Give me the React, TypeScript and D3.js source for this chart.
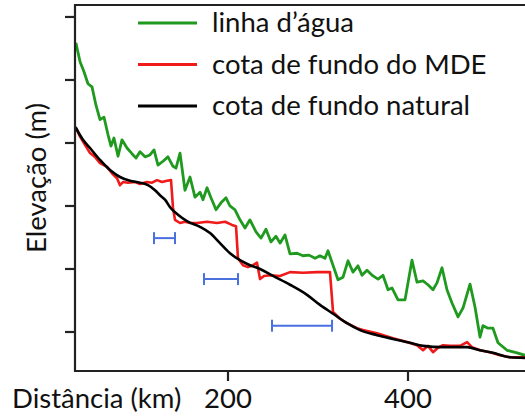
import React from "react";
import * as d3 from "d3";

// distance (km), elevation (m, arbitrary reference)
const waterKm = [31, 35.6, 40, 44.4, 48.9, 53.3, 57.8, 62.2, 66.7, 70, 73.3, 77.8, 82.2, 87.8, 93.3, 97.8, 102.2, 107.8, 113.3, 117.8, 122.2, 127.8, 133.3, 138.9, 142.2, 146.7, 152.2, 157.8, 163.3, 168.9, 172.2, 176.7, 181.1, 186.7, 192.2, 197.8, 202.2, 207.8, 213.3, 218.9, 224.4, 231.1, 236.7, 242.2, 247.8, 253.3, 257.8, 263.3, 268.9, 276.7, 283.3, 290, 296.7, 302.2, 307.8, 311.1, 322.2, 327.8, 333.3, 338.9, 344.4, 348.9, 354.4, 361.1, 366.7, 372.2, 377.8, 382.2, 388.9, 396.7, 404.4, 410, 416.7, 422.2, 427.8, 432.2, 437.8, 443.3, 448.9, 455.6, 461.1, 468.9, 474.4, 480, 483.3, 488.9, 494.4, 500, 510, 521.1, 530];
const waterM = [55.9, 52.9, 51.3, 49.4, 48.9, 46.0, 43.7, 44.1, 41.3, 39.5, 40.8, 37.9, 40.5, 39.2, 38.3, 37.6, 38.6, 37.8, 38.1, 38.9, 36.5, 37.1, 37.8, 36.3, 36.0, 38.4, 32.5, 34.6, 31.4, 32.2, 31.0, 32.9, 31.3, 29.4, 30.5, 31.3, 30.0, 29.4, 27.8, 26.5, 27.8, 25.9, 24.9, 26.3, 24.3, 25.2, 24.1, 25.4, 22.4, 22.5, 22.1, 22.2, 21.7, 22.1, 21.7, 22.9, 18.3, 18.7, 21.3, 19.5, 20.5, 19.0, 19.8, 18.9, 18.4, 19.0, 16.7, 17.0, 15.1, 15.1, 21.4, 17.9, 18.1, 17.5, 16.7, 17.8, 20.2, 16.7, 14.6, 12.4, 13.8, 17.6, 14.0, 9.2, 11.0, 10.6, 10.6, 8.3, 7.1, 6.7, 6.3];

const demKm = [30.6, 35.6, 41.1, 46.7, 52.2, 57.8, 65.6, 71.1, 76.7, 80, 83.3, 88.9, 96.7, 102.2, 110, 115.6, 121.1, 126.7, 132.2, 136.7, 138.9, 141.1, 146.7, 152.2, 157.8, 165.6, 176.7, 187.8, 196.7, 204.4, 208.9, 211.1, 216.7, 222.2, 227.8, 232.2, 235.6, 240, 246.7, 257.8, 268.9, 283.3, 298.9, 313.3, 316.7, 324.4, 332.2, 343.3, 350, 365.6, 383.3, 398.9, 410, 416.7, 422.2, 427.8, 433.3, 438.9, 446.7, 457.8, 465.6, 471.1, 480, 491.1, 502.2, 513.3, 530];
const demM = [42.5, 41.0, 39.7, 38.4, 37.8, 36.8, 36.2, 35.2, 34.4, 33.3, 33.8, 33.7, 33.8, 33.5, 33.8, 33.7, 34.1, 33.8, 34.0, 34.1, 29.7, 27.8, 27.3, 27.5, 27.3, 27.3, 27.5, 27.3, 27.5, 27.0, 26.8, 21.7, 20.6, 20.3, 20.6, 21.0, 18.4, 18.9, 19.0, 18.9, 19.5, 19.4, 19.5, 19.5, 13.2, 12.1, 11.4, 10.6, 10.3, 9.8, 9.0, 8.4, 7.9, 7.1, 7.8, 6.8, 7.5, 7.9, 7.8, 7.8, 8.4, 7.6, 7.1, 6.8, 6.3, 6.0, 6.0];

const natKm = [30.6, 38.9, 46.7, 57.8, 68.9, 80, 91.1, 102.2, 111.1, 118.9, 124.4, 130, 135.6, 144.4, 154.4, 168.9, 180, 191.1, 202.2, 213.3, 224.4, 235.6, 250, 268.9, 287.8, 302.2, 316.7, 332.2, 346.7, 365.6, 383.3, 402.2, 416.7, 438.9, 465.6, 480, 494.4, 513.3, 530];
const natM = [42.5, 40.5, 39.2, 37.3, 35.7, 34.6, 34.0, 33.7, 33.3, 32.5, 31.7, 31.0, 29.8, 28.6, 27.6, 26.7, 25.7, 24.1, 22.5, 21.4, 20.6, 20.0, 18.9, 17.5, 15.9, 14.3, 12.9, 11.4, 10.3, 9.5, 8.9, 8.3, 7.8, 7.6, 7.6, 7.1, 6.7, 6.0, 5.9];

// interval markers (km start, km end, elevation)
const barStart = [117.8, 173.3, 248.9];
const barEnd = [141.1, 211.1, 315.6];
const barM = [24.9, 18.4, 11.0];

const xTicks = [200, 400];
const yTicks = [10, 20, 30, 40, 50, 60];
const legendLabels = ["linha d\u2019água", "cota de fundo do MDE", "cota de fundo natural"];
const legendColors = ["#1f9a1f", "#f01a1a", "#000000"];

const W = 525;
const H = 416;
const FONT = "Lato, 'Open Sans', sans-serif";
const FS = 27.5;

export default function App() {
  const x = d3.scaleLinear().domain([30, 530]).range([75, 525]);
  const y = d3.scaleLinear().domain([3.81, 61.9]).range([371, 5]);

  const lin = d3
    .line<[number, number]>()
    .x((d) => x(d[0]))
    .y((d) => y(d[1]));
  const smooth = d3
    .line<[number, number]>()
    .x((d) => x(d[0]))
    .y((d) => y(d[1]))
    .curve(d3.curveMonotoneX);

  const water = waterKm.map((k, i) => [k, waterM[i]] as [number, number]);
  const dem = demKm.map((k, i) => [k, demM[i]] as [number, number]);
  const nat = natKm.map((k, i) => [k, natM[i]] as [number, number]);

  const left = x(30);
  const right = x(535);
  const top = y(61.9);
  const bottom = y(3.81);
  const axisColor = "#222";

  return (
    <svg
      width={W}
      height={H}
      style={{ position: "absolute", left: 0, top: 0, background: "#fff" }}
      fontFamily={FONT}
    >
      <defs>
        <clipPath id="plot">
          <rect x={left} y={top} width={right - left} height={bottom - top} />
        </clipPath>
      </defs>

      {/* lines */}
      <g clipPath="url(#plot)" fill="none" strokeLinejoin="round">
        <path d={lin(water) || ""} stroke={legendColors[0]} strokeWidth={2.8} />
        <path d={lin(dem) || ""} stroke={legendColors[1]} strokeWidth={2.6} />
        <path d={smooth(nat) || ""} stroke={legendColors[2]} strokeWidth={2.6} />
      </g>

      {/* interval bars */}
      <g stroke="#4a70e0" strokeWidth={2}>
        {barStart.map((s, i) => (
          <g key={i}>
            <line x1={x(s)} x2={x(barEnd[i])} y1={y(barM[i])} y2={y(barM[i])} />
            <line x1={x(s)} x2={x(s)} y1={y(barM[i]) - 6} y2={y(barM[i]) + 6} />
            <line x1={x(barEnd[i])} x2={x(barEnd[i])} y1={y(barM[i]) - 6} y2={y(barM[i]) + 6} />
          </g>
        ))}
      </g>

      {/* frame */}
      <g stroke={axisColor} strokeWidth={2.2} fill="none">
        <line x1={left} x2={right} y1={top} y2={top} />
        <line x1={left} x2={left} y1={top - 1} y2={bottom + 1} />
        <line x1={left - 1} x2={right} y1={bottom} y2={bottom} />
        {yTicks.map((t) => (
          <line key={t} x1={left - 10} x2={left} y1={y(t)} y2={y(t)} />
        ))}
        {xTicks.map((t) => (
          <line key={t} x1={x(t)} x2={x(t)} y1={bottom} y2={bottom + 10} />
        ))}
      </g>

      {/* tick labels */}
      {xTicks.map((t) => (
        <text key={t} x={x(t)} y={408} fontSize={FS} textAnchor="middle" fill="#111">
          {t}
        </text>
      ))}
      <text x={12} y={408} fontSize={FS} fill="#111">
        Distância (km)
      </text>
      <text
        transform={`translate(46,178) rotate(-90)`}
        fontSize={FS}
        textAnchor="middle"
        fill="#111"
      >
        Elevação (m)
      </text>

      {/* legend */}
      {legendLabels.map((l, i) => (
        <g key={l}>
          <line
            x1={138}
            x2={197}
            y1={23 + i * 41.5}
            y2={23 + i * 41.5}
            stroke={legendColors[i]}
            strokeWidth={3}
          />
          <text x={212} y={32 + i * 41.5} fontSize={FS} fill="#111">
            {l}
          </text>
        </g>
      ))}
    </svg>
  );
}
